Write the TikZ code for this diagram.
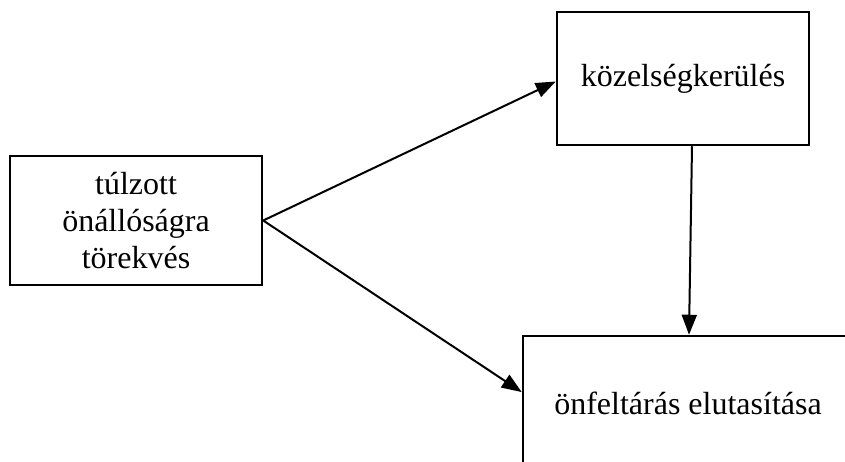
\documentclass[tikz,border=0pt]{standalone}
\usepackage{fontspec}
\setmainfont{Liberation Serif}
\usetikzlibrary{arrows.meta,calc}
\begin{document}
\begin{tikzpicture}[x=1pt,y=-1pt,
  box/.style={draw=black,line width=2.5pt,rectangle,inner sep=0pt,
    font=\fontsize{32}{36.8}\selectfont,align=center},
  conn/.style={line width=2pt,-{Triangle[length=20pt,width=15pt]}}]
\useasboundingbox (0,0) rectangle (845,462);
\clip (0,0) rectangle (845,462);
\fill[white] (0,0) rectangle (845,462);
\node[box,minimum width=252pt,minimum height=129pt] (t) at (136,220.5)
  {túlzott\\önállóságra\\törekvés};
\node[box,minimum width=252pt,minimum height=133pt] (k) at (683,78.5)
  {közelségkerülés};
\node[box,minimum width=330pt,minimum height=134pt] (o) at (688,403)
  {önfeltárás elutasítása};
\draw[conn] (t.east) -- ($(k.west)+(0,3)$);
\draw[conn] (t.east) -- ($(o.north west)!0.42!(o.south west)$);
\draw[conn] ($(k.south)+(9,0)$) -- ($(o.north)+(1,0)$);
\end{tikzpicture}
\end{document}
